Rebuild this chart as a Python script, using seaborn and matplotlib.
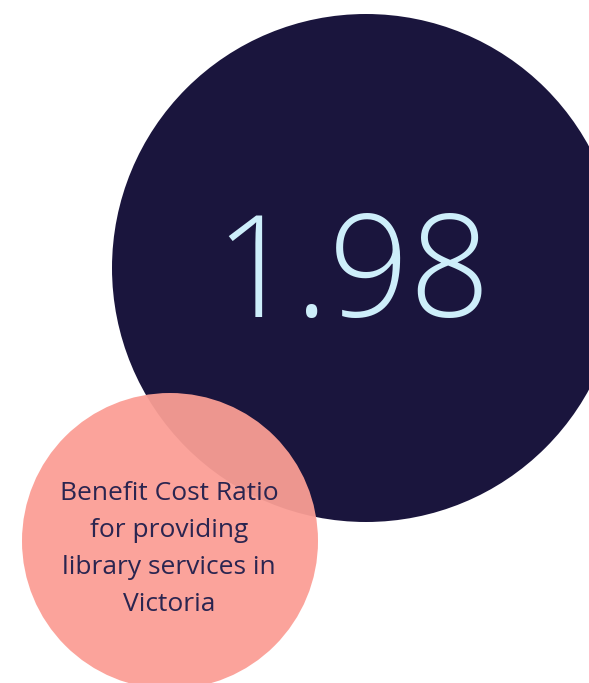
import matplotlib.pyplot as plt
from matplotlib.patches import Circle
import seaborn as sns

# Value and caption shown in the infographic
ratio_value = [1.98]
caption_lines = ['Benefit Cost Ratio', 'for providing', 'library services in', 'Victoria']

sns.set_theme(style="white")
plt.rcParams['font.family'] = ['Open Sans', 'DejaVu Sans']

W, H = 589, 683
fig = plt.figure(figsize=(W / 100, H / 100), dpi=100)
ax = fig.add_axes([0, 0, 1, 1])
ax.set_xlim(0, W)
ax.set_ylim(H, 0)
ax.set_aspect('equal')
ax.axis('off')

navy = '#1a153d'
salmon = '#fb9e95'

# big dark circle with the ratio
ax.add_patch(Circle((366, 268), 254, color=navy, lw=0, zorder=1))
ax.text(352, 280, f"{ratio_value[0]:.2f}", color='#cdeefa', fontsize=102,
        fontweight='light', ha='center', va='center', zorder=3)

# smaller salmon circle overlapping, slightly transparent
ax.add_patch(Circle((170, 541), 148, color=salmon, alpha=0.945, lw=0, zorder=2))
ax.text(169, 549, '\n'.join(caption_lines), color='#2a2550', fontsize=19,
        ha='center', va='center', linespacing=1.63, zorder=3)

plt.savefig('out.png', dpi=100, facecolor='white')
